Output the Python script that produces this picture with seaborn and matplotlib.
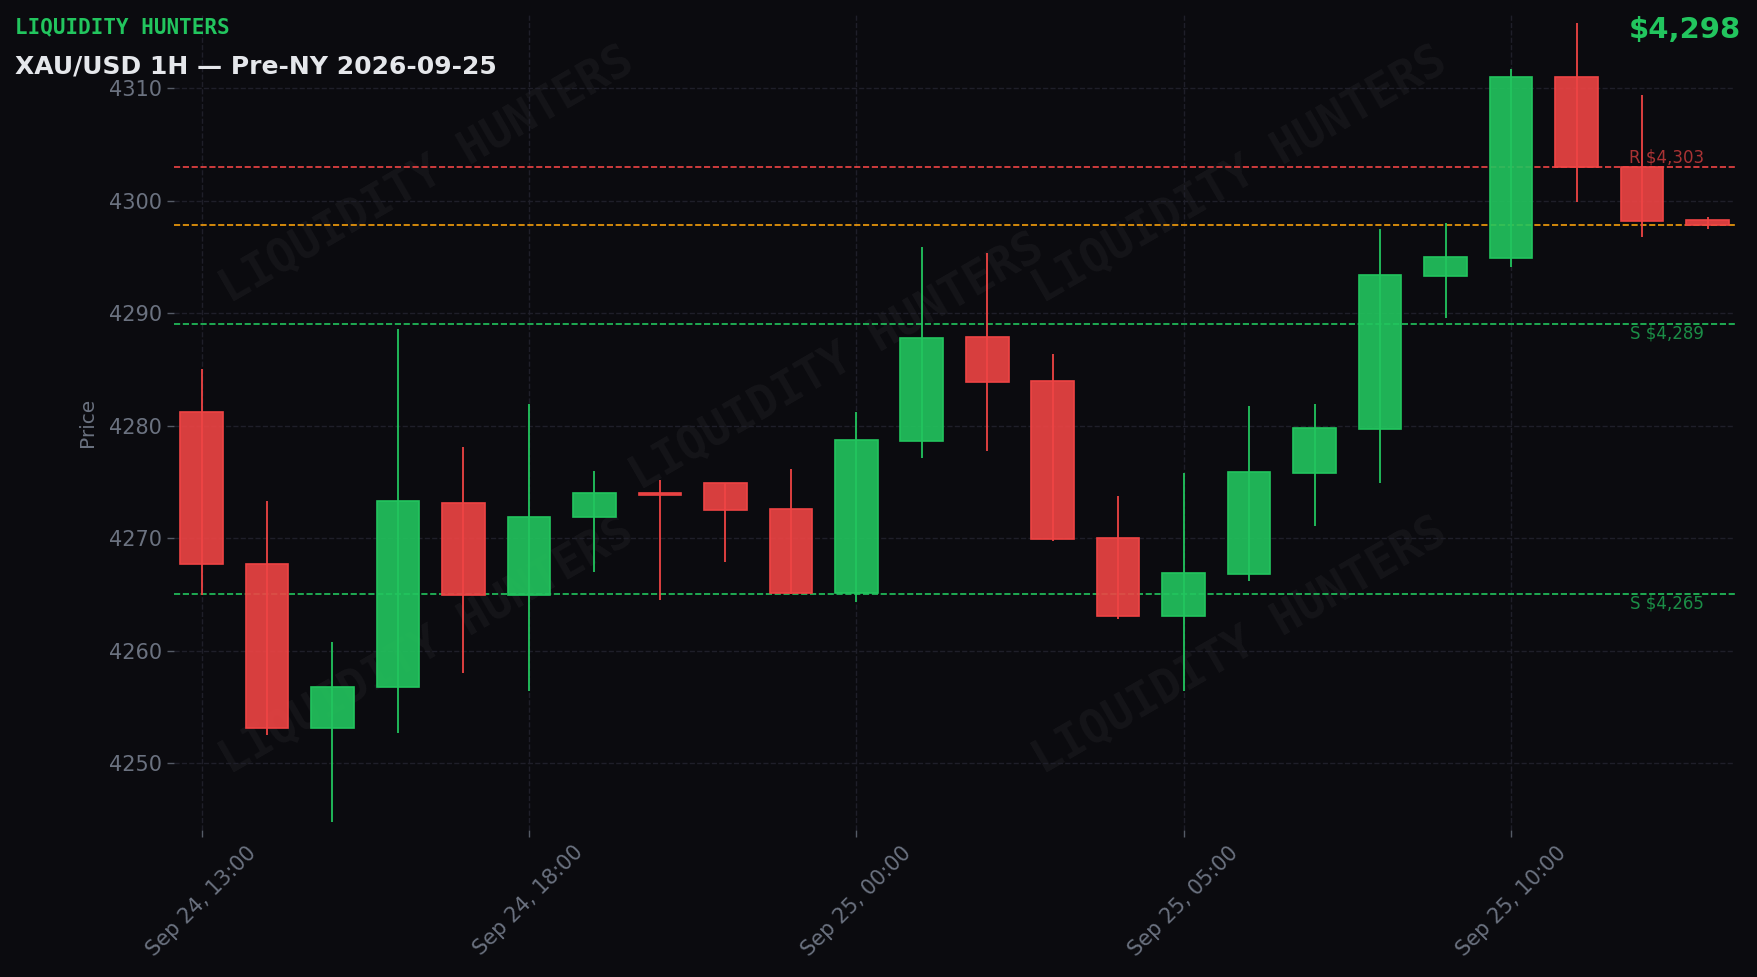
import numpy as np
import pandas as pd
import matplotlib
matplotlib.use("Agg")
import matplotlib.pyplot as plt
import matplotlib.transforms as mtransforms
import seaborn as sns

# ---------------- data ----------------
opens = [4281.2, 4267.7, 4253.1, 4256.8, 4273.1, 4264.9, 4271.9, 4274.0, 4274.9, 4272.6,
         4265.1, 4278.6, 4287.9, 4284.0, 4270.0, 4263.1, 4266.8, 4275.8, 4279.7, 4293.3,
         4294.9, 4311.0, 4303.0, 4298.3]
highs = [4285.0, 4273.3, 4260.8, 4288.6, 4278.1, 4281.9, 4276.0, 4275.2, 4274.9, 4276.1,
         4281.2, 4295.9, 4295.3, 4286.4, 4273.7, 4275.8, 4281.7, 4281.9, 4297.5, 4298.0,
         4311.7, 4315.8, 4309.4, 4298.5]
lows = [4264.9, 4252.5, 4244.8, 4252.7, 4258.0, 4256.4, 4267.0, 4264.5, 4267.9, 4265.0,
        4264.3, 4277.1, 4277.7, 4269.7, 4262.8, 4256.4, 4266.2, 4271.1, 4274.9, 4289.6,
        4294.1, 4299.9, 4296.8, 4297.5]
closes = [4267.7, 4253.1, 4256.8, 4273.3, 4264.9, 4271.9, 4274.0, 4273.8, 4272.5, 4265.1,
          4278.7, 4287.8, 4283.9, 4269.9, 4263.1, 4266.9, 4275.9, 4279.8, 4293.4, 4295.0,
          4311.0, 4303.0, 4298.2, 4297.8]
tick_index = [0, 5, 10, 15, 20]
tick_labels = ["Sep 24, 13:00", "Sep 24, 18:00", "Sep 25, 00:00", "Sep 25, 05:00", "Sep 25, 10:00"]
resistance_levels = [4303]
support_levels = [4289, 4265]
last_price = 4297.8
brand = "LIQUIDITY HUNTERS"
title = "XAU/USD 1H \u2014 Pre-NY 2026-09-25"

# ---------------- style ----------------
BG = "#0b0b0f"
GREEN = "#22c55e"
RED = "#ef4444"
ORANGE = "#f59e0b"
MUTED = "#6b7280"
GRID = "#1f1f29"

sns.set_theme(style="darkgrid", rc={
    "figure.facecolor": BG,
    "axes.facecolor": BG,
    "savefig.facecolor": BG,
    "grid.color": GRID,
    "grid.linestyle": "--",
    "grid.linewidth": 1.0,
    "axes.edgecolor": BG,
    "text.color": "#e5e7eb",
    "xtick.color": MUTED,
    "ytick.color": MUTED,
    "axes.labelcolor": MUTED,
})
plt.rcParams["font.family"] = ["DejaVu Sans"]

df = pd.DataFrame({"open": opens, "high": highs, "low": lows, "close": closes})
df["idx"] = np.arange(len(df))
df["up"] = df["close"] >= df["open"]
df["color"] = np.where(df["up"], GREEN, RED)
df["bottom"] = df[["open", "close"]].min(axis=1)
df["height"] = (df["close"] - df["open"]).abs()

fig = plt.figure(figsize=(17.58, 9.77), dpi=100)
ax = fig.add_axes([0.09898, 0.14995, 0.88794, 0.8347])

# watermarks (behind everything)
wm_pos = [(0.2429, 0.8209), (0.7053, 0.8209), (0.4761, 0.6295), (0.2429, 0.3388), (0.7053, 0.3388)]
for (wx, wy) in wm_pos:
    ax.text(wx, wy, brand, transform=fig.transFigure, rotation=30, ha="center", va="center",
            fontsize=33, fontweight="bold", family="DejaVu Sans Mono", color="white",
            alpha=0.045, zorder=0.1, clip_on=False)

# wicks
ax.vlines(df["idx"], df["low"], df["high"], colors=df["color"], linewidth=1.3, zorder=3)
# bodies
ax.bar(df["idx"], df["height"], bottom=df["bottom"], width=0.65,
       color=[matplotlib.colors.to_rgba(c, 0.9) for c in df["color"]],
       edgecolor=df["color"], linewidth=1.2, zorder=4)

# level lines
blend = mtransforms.blended_transform_factory(ax.transAxes, ax.transData)
for lv in resistance_levels:
    ax.axhline(lv, color=RED, linestyle="--", linewidth=1.2, zorder=2)
    ax.text(0.98, lv, f"R ${lv:,.0f}", transform=blend, ha="right", va="bottom",
            fontsize=12, color=RED, alpha=0.7, zorder=5)
for lv in support_levels:
    ax.axhline(lv, color=GREEN, linestyle="--", linewidth=1.2, zorder=2)
    ax.text(0.98, lv, f"S ${lv:,.0f}", transform=blend, ha="right", va="top",
            fontsize=12, color=GREEN, alpha=0.7, zorder=5)
ax.axhline(last_price, color=ORANGE, linestyle="--", linewidth=1.2, zorder=2)

ax.set_xlim(-0.42, 23.42)
ax.set_ylim(4244.0, 4316.5)
ax.set_yticks([4250, 4260, 4270, 4280, 4290, 4300, 4310])
ax.set_xticks(tick_index)
ax.set_xticklabels(tick_labels, rotation=45)
ax.tick_params(axis="both", labelsize=15, length=5, width=1, color="#555b66",
               bottom=True, left=True)
ax.set_ylabel("Price", fontsize=14.5, labelpad=9)
ax.set_xlabel("")
sns.despine(ax=ax, left=True, bottom=True)

# header texts
fig.text(0.0085, 0.966, brand, family="DejaVu Sans Mono", fontweight="bold",
         fontsize=15, color=GREEN, ha="left", va="baseline")
fig.text(0.0085, 0.925, title, fontweight="bold", fontsize=18, color="#e5e7eb",
         ha="left", va="baseline")
fig.text(0.9903, 0.961, f"${last_price:,.0f}", fontweight="bold", fontsize=21,
         color=GREEN, ha="right", va="baseline")

fig.savefig("out.png", dpi=100, facecolor=BG)
